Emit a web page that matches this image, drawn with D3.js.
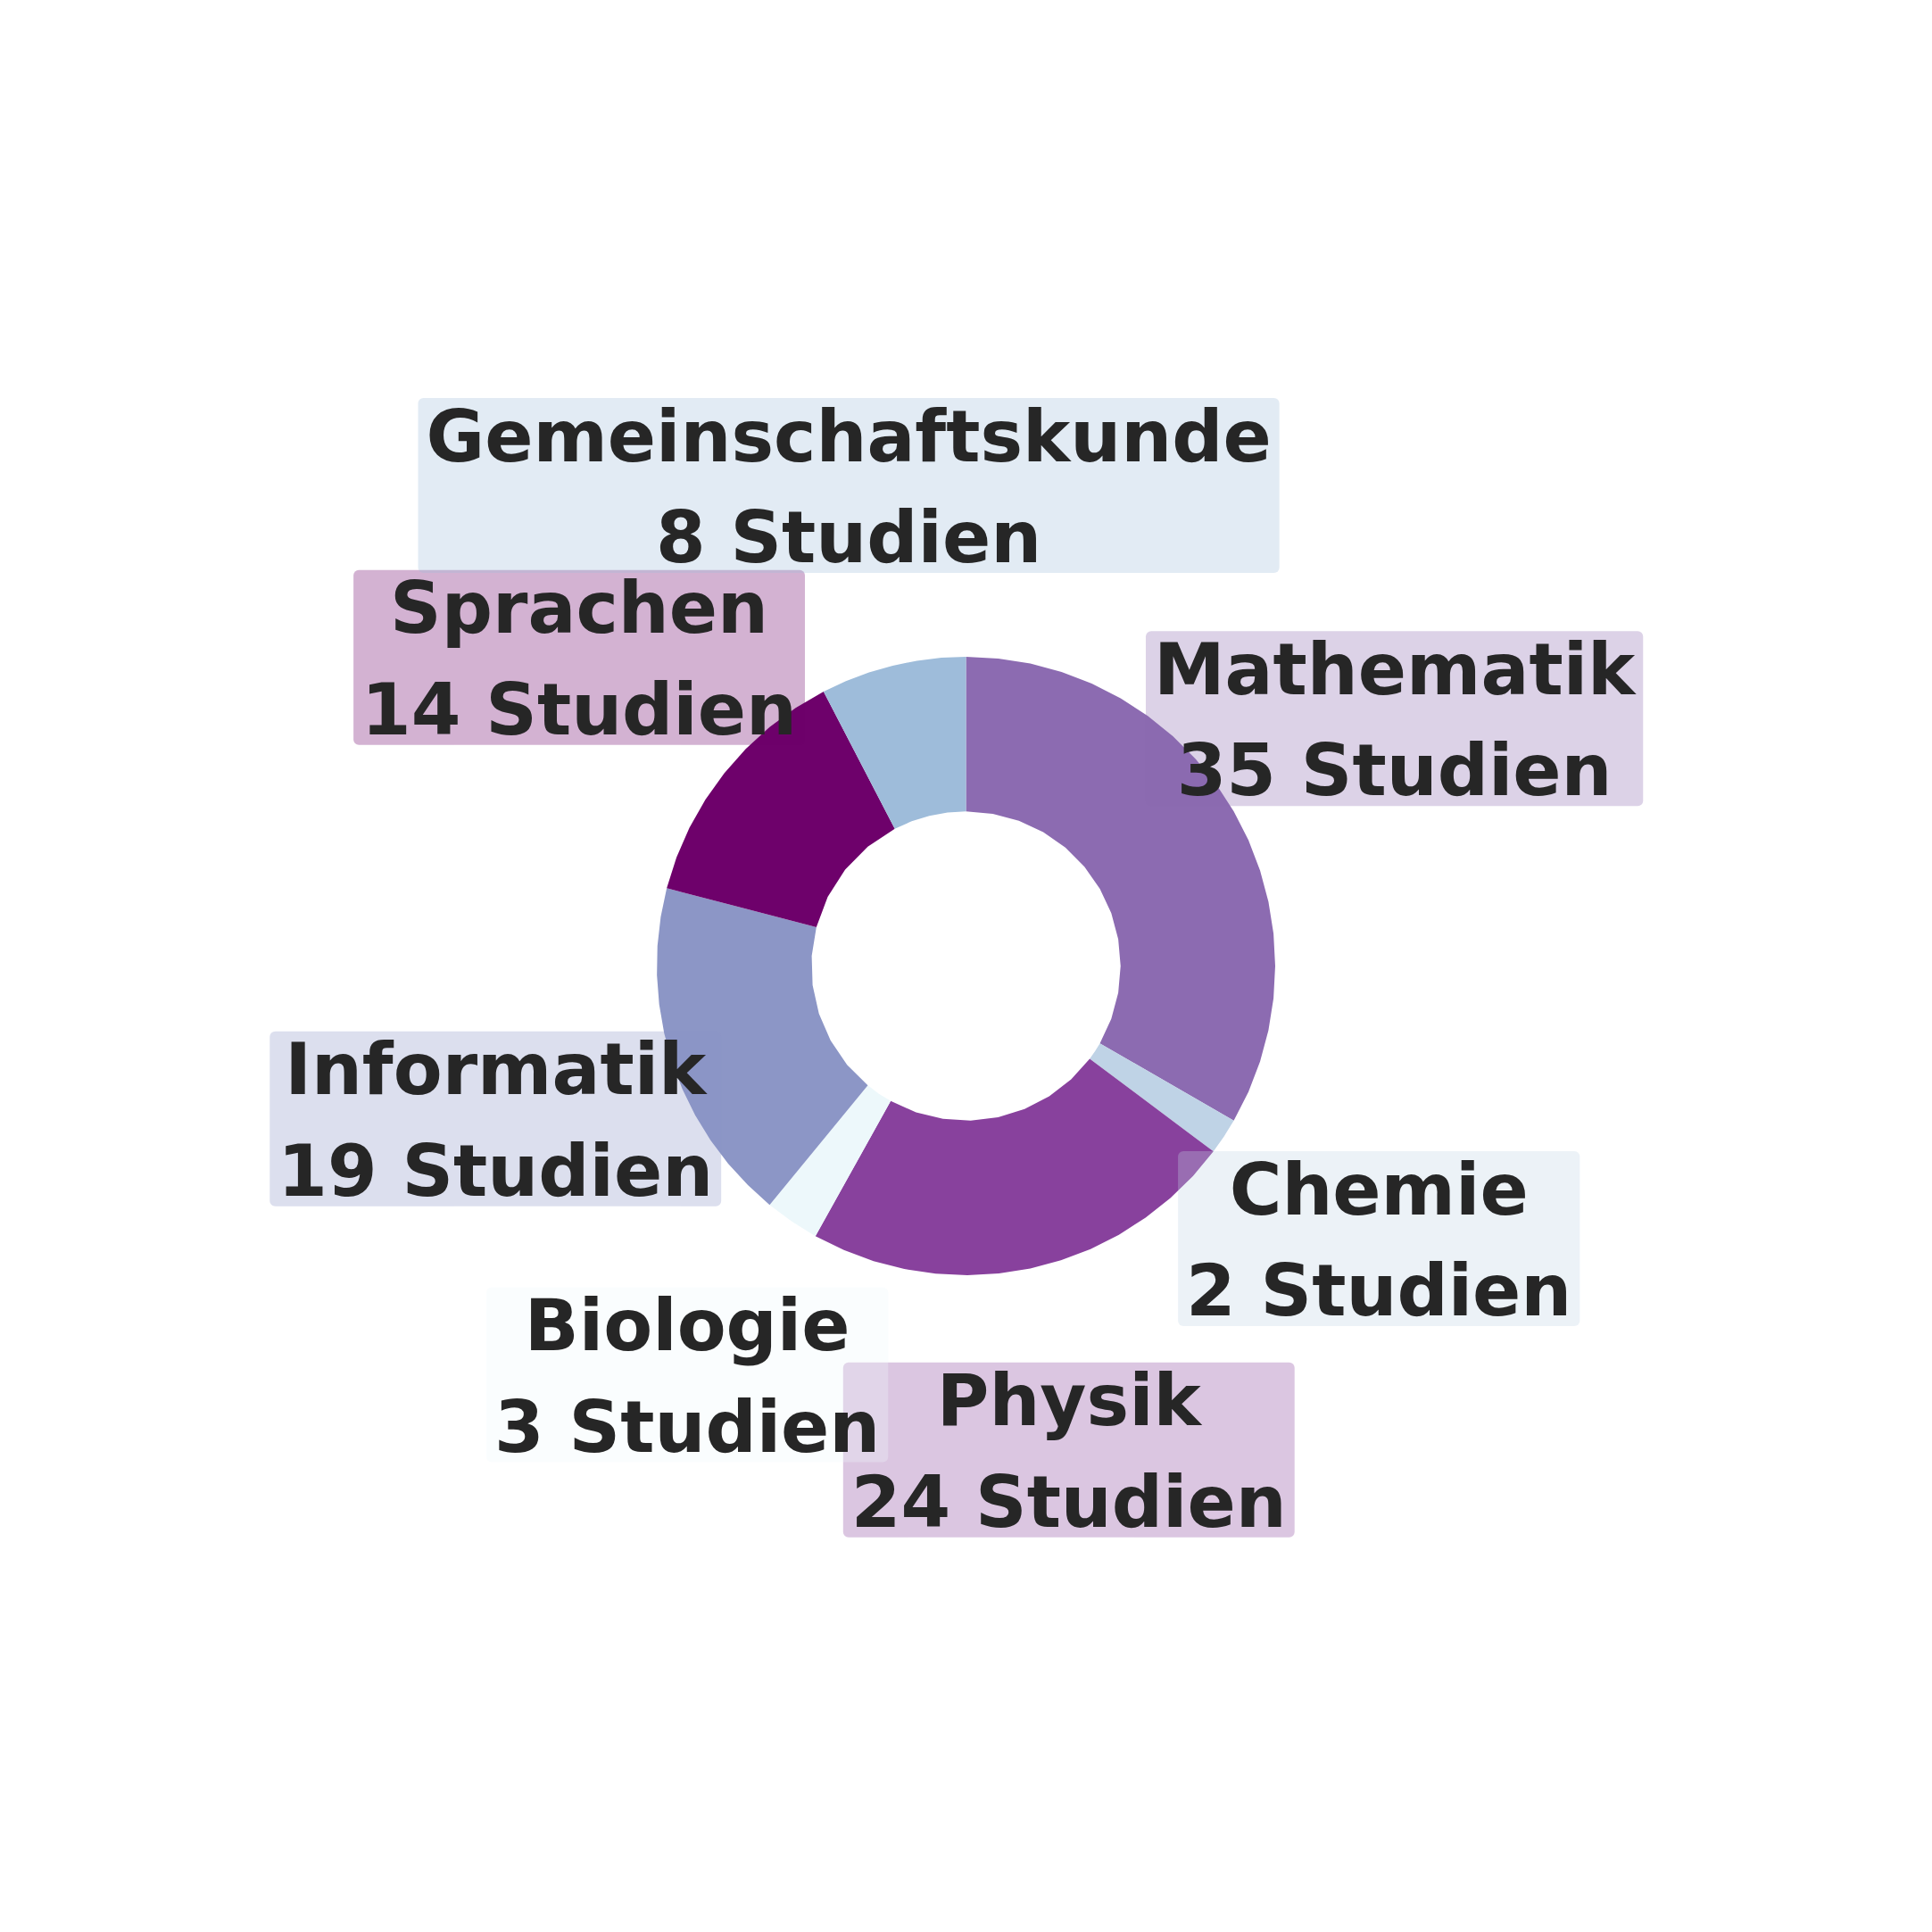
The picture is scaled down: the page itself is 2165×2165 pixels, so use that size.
<!DOCTYPE html>
<html>
<head>
<meta charset="utf-8">
<script src="https://cdn.jsdelivr.net/npm/d3@7"></script>
<style>
    body { margin: 0; background: #ffffff; }
    svg { display: block; }
</style>
</head>
<body>
<svg id="drawing_region"></svg>
<script>
const categories = ["Mathematik", "Chemie", "Physik", "Biologie", "Informatik", "Sprachen", "Gemeinschaftskunde"];
const studies = [35, 2, 24, 3, 19, 14, 8];
const unit_label = "Studien";

const palette = ["#8c6bb1", "#bfd3e6", "#88419d", "#edf8fb", "#8c96c6", "#6e016b", "#9ebcda"];

var config = {
    parent: '#drawing_region',
    width: 2165,
    height: 2165,
    radius: 346.5
};

class DonutChart {

    constructor( config, data ) {
        this.config = config;
        this.data = data;
        this.init();
    }

    init() {
        let self = this;

        self.svg = d3.select( self.config.parent )
            .attr('width', self.config.width)
            .attr('height', self.config.height);

        self.chart = self.svg.append('g')
            .attr('transform', `translate(${self.config.width / 2}, ${self.config.height / 2})`);

        // radius in units of the outer radius: hole 0.5, labels 1.6
        self.rscale = d3.scaleLinear()
            .domain([0, 1])
            .range([0, self.config.radius]);

        self.color = d3.scaleOrdinal()
            .domain( categories )
            .range( palette );

        self.pie = d3.pie()
            .sort(null)
            .value( d => d.value );

        self.line = d3.lineRadial()
            .angle( d => d[0] )
            .radius( d => d[1] );
    }

    // flattened arc: split in quarter-turn pieces, then straight steps
    arcAngles( a0, a1, maxStep ) {
        const span = a1 - a0;
        const nb = Math.pow(2, Math.ceil( span / (Math.PI / 2) - 1e-9 ));
        const steps = nb * Math.max(1, Math.ceil( (span / nb) / maxStep - 1e-9 ));
        return d3.range(steps + 1).map( i => a0 + span * i / steps );
    }

    wedge( a0, a1, r0, r1 ) {
        let self = this;
        const deg = Math.PI / 180;
        const outer = self.arcAngles( a0, a1, 6 * deg ).map( a => [a, r1] );
        const inner = self.arcAngles( a0, a1, 12 * deg ).reverse().map( a => [a, r0] );
        return self.line( outer.concat( inner ) ) + 'Z';
    }

    render() {
        let self = this;
        const arcs = self.pie( self.data );
        const r0 = self.rscale(0.5);
        const r1 = self.rscale(1);

        self.chart.append('g')
            .selectAll('path')
            .data( arcs )
            .join('path')
            .attr('d', d => self.wedge( d.startAngle, d.endAngle, r0, r1 ) )
            .attr('fill', d => self.color( d.data.name ) );

        const fs = 80;
        const labels = self.chart.append('g')
            .selectAll('g')
            .data( arcs )
            .join('g')
            .attr('transform', d => {
                const p = d3.pointRadial( (d.startAngle + d.endAngle) / 2, self.rscale(1.6) );
                return `translate(${p[0]}, ${p[1]})`;
            });

        const rects = labels.append('rect');

        const texts = labels.append('text')
            .attr('text-anchor', 'middle')
            .attr('font-family', '"DejaVu Sans", sans-serif')
            .attr('font-weight', 'bold')
            .attr('font-size', fs + 'px')
            .attr('fill', '#262626');

        texts.append('tspan')
            .attr('x', 0)
            .attr('y', -27.4)
            .text( d => d.data.name );

        texts.append('tspan')
            .attr('x', 0)
            .attr('y', 86)
            .text( d => `${d.data.value} ${unit_label}` );

        rects.each( function(d) {
            const t = d3.select( this.parentNode ).selectAll('tspan').nodes();
            const w = d3.max( t, n => n.getComputedTextLength() ) + 18;
            d3.select(this)
                .attr('x', -w / 2)
                .attr('y', -98)
                .attr('width', w)
                .attr('height', 196)
                .attr('rx', 6)
                .attr('fill', self.color( d.data.name ))
                .attr('fill-opacity', 0.3);
        });
    }
}

const data = categories.map( (c, i) => ({ name: c, value: studies[i] }) );
const donut = new DonutChart( config, data );
donut.render();
</script>
</body>
</html>
